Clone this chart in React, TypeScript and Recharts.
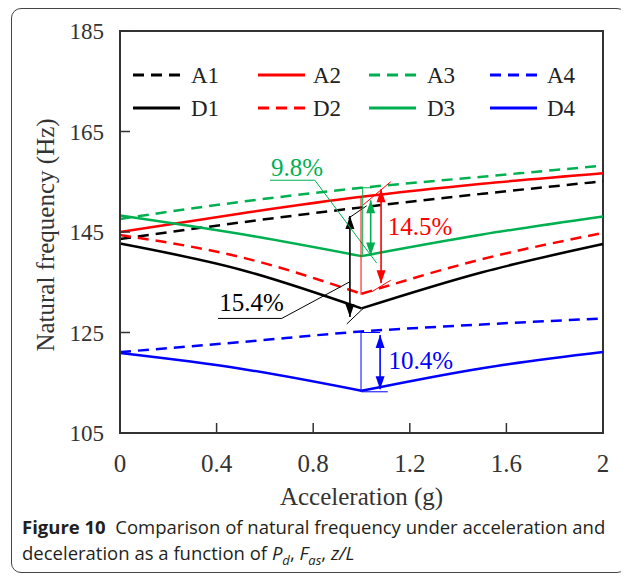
import React from 'react';
import {
  LineChart,
  Line,
  XAxis,
  YAxis,
  ReferenceLine,
  ReferenceDot,
  ReferenceArea,
  Legend,
} from 'recharts';

// acceleration (g) and natural frequency (Hz)
const accel = [0, 0.5, 1, 1.5, 2];
const a1 = [143.6, 146.9, 149.9, 152.6, 155.1];
const a2 = [145.0, 148.7, 152.0, 154.6, 156.7];
const a3 = [147.6, 151.0, 153.8, 156.0, 158.2];
const a4 = [121.1, 123.1, 125.2, 126.6, 127.8];
const d1 = [142.7, 137.5, 129.8, 137.0, 142.6];
const d2 = [144.4, 140.0, 132.7, 139.6, 144.8];
const d3 = [148.3, 144.6, 140.2, 144.5, 148.1];
const d4 = [120.9, 117.8, 113.4, 117.9, 121.1];

const xTicks = [0, 0.4, 0.8, 1.2, 1.6, 2];
const yTicks = [105, 125, 145, 165, 185];

// percentage annotations, [x1, y1, x2, y2] in data units; first segment is the double arrow
const blackMarks = [
  [0.952, 148.2, 0.952, 128.1],
  [0.945, 147.7, 1.021, 150.2],
  [0.939, 126.7, 1.007, 129.8],
  [0.406, 127.8, 0.67, 127.8],
  [0.67, 127.8, 0.952, 135.1],
];
const greenMarks = [
  [1.038, 151.3, 1.038, 140.3],
  [1.005, 153.8, 1.005, 140.0],
  [1.005, 153.8, 1.043, 153.8],
  [0.621, 155.3, 0.807, 155.3],
  [0.807, 155.3, 1.063, 138.8],
];
const redMarks = [
  [1.081, 153.5, 1.081, 134.8],
  [0.998, 151.8, 0.998, 132.5],
  [1.007, 150.4, 1.121, 155.0],
  [1.042, 133.1, 1.121, 135.4],
];
const blueMarks = [
  [1.077, 124.5, 1.077, 113.7],
  [0.998, 124.9, 0.998, 113.2],
  [0.998, 125.0, 1.077, 125.0],
  [0.998, 113.2, 1.109, 113.2],
];
const blackLabel = { x: 0.545, y: 131.0, text: '15.4%' };
const greenLabel = { x: 0.733, y: 157.9, text: '9.8%' };
const redLabel = { x: 1.242, y: 146.0, text: '14.5%' };
const blueLabel = { x: 1.246, y: 119.5, text: '10.4%' };

const BLACK = '#000000';
const RED = '#ff0000';
const GREEN = '#00b050';
const BLUE = '#0000ff';
const SERIF = '"Liberation Serif", "Times New Roman", serif';
const TEXT = '#333333';

const series = [
  { key: 'A1', values: a1, color: BLACK, dashed: true, v: false },
  { key: 'A2', values: a2, color: RED, dashed: false, v: false },
  { key: 'A3', values: a3, color: GREEN, dashed: true, v: false },
  { key: 'A4', values: a4, color: BLUE, dashed: true, v: false },
  { key: 'D1', values: d1, color: BLACK, dashed: false, v: true },
  { key: 'D2', values: d2, color: RED, dashed: true, v: true },
  { key: 'D3', values: d3, color: GREEN, dashed: false, v: true },
  { key: 'D4', values: d4, color: BLUE, dashed: false, v: true },
];

// V-shaped (deceleration) curves are split at 1 g so each side stays smooth
const data = accel.map((g, i) => {
  const row: Record<string, number | undefined> = { g };
  series.forEach((s) => {
    if (s.v) {
      row[`${s.key}_l`] = g <= 1 ? s.values[i] : undefined;
      row[`${s.key}_r`] = g >= 1 ? s.values[i] : undefined;
    } else {
      row[s.key] = s.values[i];
    }
  });
  return row;
});

const groups = [
  { marks: blackMarks, label: blackLabel, color: BLACK },
  { marks: greenMarks, label: greenLabel, color: GREEN },
  { marks: redMarks, label: redLabel, color: RED },
  { marks: blueMarks, label: blueLabel, color: BLUE },
];

const segShape = (color: string, width: number, heads: boolean) => (p: any) => {
  const { x1, y1, x2, y2 } = p;
  const dx = x2 - x1;
  const dy = y2 - y1;
  const len = Math.hypot(dx, dy) || 1;
  const ux = dx / len;
  const uy = dy / len;
  const head = (tx: number, ty: number, vx: number, vy: number) => {
    const bx = tx - vx * 13;
    const by = ty - vy * 13;
    return `${tx},${ty} ${bx - vy * 4.5},${by + vx * 4.5} ${bx + vy * 4.5},${by - vx * 4.5}`;
  };
  return (
    <g>
      <line x1={x1} y1={y1} x2={x2} y2={y2} stroke={color} strokeWidth={width} />
      {heads && <polygon points={head(x1, y1, -ux, -uy)} fill={color} />}
      {heads && <polygon points={head(x2, y2, ux, uy)} fill={color} />}
    </g>
  );
};

const legendCols = [0, 125, 236, 357];
const legendText = [58, 55, 58, 57];

const LegendBox = () => (
  <svg width={480} height={76} style={{ display: 'block', overflow: 'visible' }}
  >
    {series.map((s, i) => {
      const col = i % 4;
      const y = 20 + Math.floor(i / 4) * 33;
      const x = legendCols[col];
      return (
        <g key={s.key}>
          <line
            x1={x}
            x2={x + 47}
            y1={y}
            y2={y}
            stroke={s.color}
            strokeWidth={3}
            strokeDasharray={s.dashed ? '11 7' : undefined}
          />
          <text
            x={x + legendText[col]}
            y={y}
            dominantBaseline="central"
            fontSize={23}
            fontFamily={SERIF}
            fill="#222"
          >
            {s.key}
          </text>
        </g>
      );
    })}
  </svg>
);

const lineKeys = series.flatMap((s) =>
  s.v ? [`${s.key}_l`, `${s.key}_r`].map((k) => ({ ...s, dk: k })) : [{ ...s, dk: s.key }]
);

export default function App() {
  return (
    <div style={{ position: 'relative', width: 621, height: 565 }}>
      <div
        style={{
          position: 'absolute',
          left: 3,
          top: 0,
          width: 614,
          height: 563,
          border: '1px solid #444',
          borderRadius: 10,
        }}
      />
      <div style={{ position: 'absolute', left: 0, top: 0 }}>
        <LineChart
          width={610}
          height={510}
          data={data}
          margin={{ top: 23, right: 15, left: 0, bottom: 0 }}
        >
          <XAxis
            dataKey="g"
            type="number"
            domain={[0, 2]}
            ticks={xTicks}
            interval={0}
            height={85}
            tickSize={-10}
            tickMargin={31}
            axisLine={{ stroke: '#333', strokeWidth: 2 }}
            tickLine={{ stroke: '#333', strokeWidth: 1.5 }}
            tick={{ fill: TEXT, fontSize: 25, fontFamily: SERIF }}
            label={(p: any) => {
              const vb = p.viewBox || { x: 112, y: 425, width: 483 };
              return (
                <text
                  x={vb.x + vb.width / 2}
                  y={vb.y + 72}
                  textAnchor="middle"
                  fontSize={25}
                  fontFamily={SERIF}
                  fill={TEXT}
                >
                  Acceleration (g)
                </text>
              );
            }}
          />
          <YAxis
            type="number"
            domain={[105, 185]}
            ticks={yTicks}
            interval={0}
            width={112}
            tickSize={-10}
            tickMargin={26}
            axisLine={{ stroke: '#333', strokeWidth: 2 }}
            tickLine={{ stroke: '#333', strokeWidth: 1.5 }}
            tick={{ fill: TEXT, fontSize: 23, fontFamily: SERIF }}
            label={(p: any) => {
              const vb = p.viewBox || { y: 23, height: 402 };
              const cy = vb.y + vb.height / 2 + 3;
              return (
                <text
                  x={37}
                  y={cy}
                  transform={`rotate(-90 37 ${cy})`}
                  textAnchor="middle"
                  dominantBaseline="central"
                  fontSize={25}
                  fontFamily={SERIF}
                  fill={TEXT}
                >
                  Natural frequency (Hz)
                </text>
              );
            }}
          />
          <ReferenceArea
            x1={0}
            x2={2}
            y1={105}
            y2={185}
            fill="none"
            stroke="#333"
            strokeWidth={2}
            ifOverflow="visible"
          />
          <Legend
            layout="horizontal"
            verticalAlign="middle"
            align="center"
            content={() => <LegendBox />}
            wrapperStyle={{ top: 47, left: 125, width: 480, height: 76 }}
          />
          {lineKeys.map((s) => (
            <Line
              key={s.dk}
              dataKey={s.dk}
              type="monotone"
              stroke={s.color}
              strokeWidth={2.5}
              strokeDasharray={s.dashed ? '11 7' : undefined}
              dot={false}
              activeDot={false}
              legendType="none"
              isAnimationActive={false}
            />
          ))}
          {groups.map((gr, gi) =>
            gr.marks.map((m, i) => (
              <ReferenceLine
                key={`m${gi}-${i}`}
                segment={[
                  { x: m[0], y: m[1] },
                  { x: m[2], y: m[3] },
                ]}
                ifOverflow="visible"
                shape={segShape(gr.color, i === 0 ? 1.6 : 1, i === 0)}
              />
            ))
          )}
          {groups.map((gr, gi) => (
            <ReferenceDot
              key={`t${gi}`}
              x={gr.label.x}
              y={gr.label.y}
              r={0}
              ifOverflow="visible"
              shape={(p: any) => (
                <text
                  x={p.cx}
                  y={p.cy}
                  textAnchor="middle"
                  dominantBaseline="central"
                  fontSize={25}
                  fontFamily={SERIF}
                  fill={gr.color}
                >
                  {gr.label.text}
                </text>
              )}
            />
          ))}
        </LineChart>
      </div>
      <div
        style={{
          position: 'absolute',
          left: 14,
          top: 506,
          fontFamily: '"Open Sans", "Noto Sans", sans-serif',
          fontSize: 18.5,
          lineHeight: '26px',
          color: '#231f20',
          whiteSpace: 'nowrap',
        }}
      >
        <div>
          <b>Figure 10</b>&nbsp; Comparison of natural frequency under acceleration and
        </div>
        <div>
          deceleration as a function of <i>P</i>
          <sub style={{ fontSize: 13, lineHeight: 0 }}>
            <i>d</i>
          </sub>
          , <i>F</i>
          <sub style={{ fontSize: 13, lineHeight: 0 }}>
            <i>as</i>
          </sub>
          , <i>z/L</i>
        </div>
      </div>
    </div>
  );
}
